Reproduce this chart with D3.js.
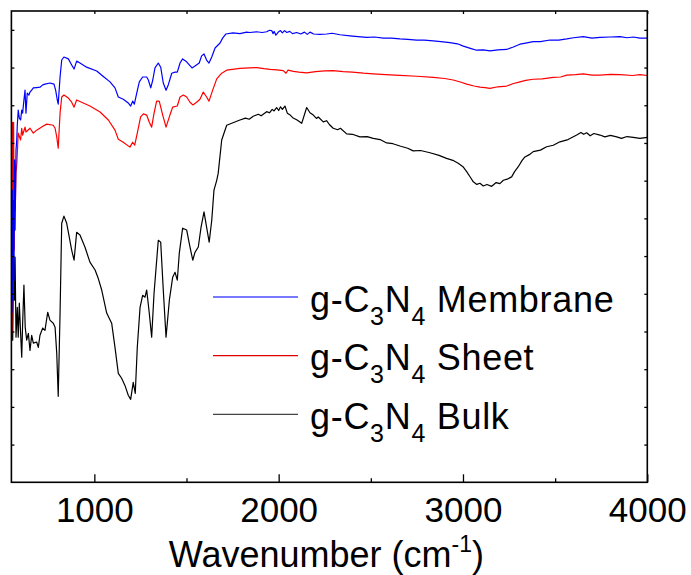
<!DOCTYPE html>
<html>
<head>
<meta charset="utf-8">
<script src="https://cdn.jsdelivr.net/npm/d3@7"></script>
<style>
  body { margin: 0; background: #fff; }
  text { font-family: Arial, "Liberation Sans", sans-serif; fill: #000; }
</style>
</head>
<body>
<div id="chart"></div>
<script>
// FTIR spectra, [wavenumber (cm-1), transmittance (a.u., offset)]
const membrane = [
  [553,44.9],[555,77.5],[557,48.3],[560,74.8],[564,53.6],[567,85.5],[570,66.9],[575,88.1],[579,90.8],[582,94.7],
  [587,98.7],[593,96.6],[600,96.1],[606,98.7],[611,97.9],[618,101.4],[624,104.0],[629,97.9],[636,103.2],[645,102.7],
  [651,103.5],[660,104.0],[669,104.6],[687,104.7],[705,104.8],[720,105.4],[732,105.6],[759,105.9],[781,105.6],[790,104.0],
  [799,101.4],[804,100.3],[814,107.5],[823,112.0],[835,112.8],[859,112.3],[877,110.7],[890,109.6],[904,111.7],[922,111.2],
  [958,110.1],[1013,109.1],[1047,107.7],[1085,106.2],[1112,104.6],[1130,102.2],[1157,101.6],[1184,100.6],[1197,99.8],[1208,101.1],
  [1217,100.3],[1230,103.2],[1244,106.2],[1262,107.5],[1284,107.5],[1293,106.7],[1306,104.6],[1317,106.7],[1329,109.9],[1347,111.2],
  [1360,110.1],[1374,105.9],[1389,104.0],[1401,105.4],[1420,108.5],[1438,108.8],[1450,108.8],[1465,111.2],[1479,112.3],[1497,111.7],
  [1515,110.7],[1530,109.9],[1546,110.4],[1569,111.2],[1582,113.1],[1595,113.6],[1609,112.0],[1622,111.2],[1637,112.8],[1655,115.2],
  [1682,116.5],[1696,117.8],[1714,118.9],[1752,119.2],[1790,119.0],[1826,119.4],[1844,119.3],[1880,119.5],[1910,119.3],[1935,119.5],
  [1950,119.9],[1962,119.8],[1970,119.0],[1975,119.6],[1985,118.6],[1998,119.4],[2010,119.8],[2020,119.2],[2032,119.8],[2044,119.3],
  [2060,119.6],[2075,119.0],[2098,119.3],[2120,118.9],[2140,119.4],[2155,118.8],[2170,119.4],[2190,118.9],[2224,118.8],[2260,118.9],
  [2290,119.1],[2333,118.7],[2387,118.4],[2430,118.2],[2478,118.0],[2520,118.1],[2568,117.8],[2610,117.8],[2658,117.6],[2700,117.5],
  [2749,117.3],[2790,117.3],[2839,117.1],[2880,116.9],[2929,116.6],[2970,116.3],[3002,115.7],[3040,115.1],[3074,114.6],[3110,114.7],
  [3146,114.4],[3190,114.7],[3237,114.8],[3270,115.4],[3309,116.2],[3340,116.5],[3381,116.9],[3420,116.9],[3472,117.3],[3520,117.3],
  [3563,117.6],[3600,117.9],[3653,118.2],[3700,117.8],[3743,118.0],[3800,118.1],[3852,118.2],[3890,117.9],[3924,118.1],[3960,117.8],
  [4000,117.8]
];

const sheet = [
  [553,39.5],[556,95.5],[559,48.3],[562,95.5],[565,61.6],[568,82.8],[571,72.2],[575,82.3],[579,84.1],[587,92.6],
  [600,90.8],[606,93.9],[611,92.1],[624,94.2],[629,92.9],[651,93.9],[669,92.6],[687,93.4],[723,94.5],[742,95.0],
  [777,94.7],[787,93.9],[796,91.6],[804,88.6],[814,97.9],[823,102.2],[835,102.7],[859,101.9],[877,100.8],[890,99.5],
  [904,101.4],[931,100.8],[976,99.8],[1031,98.2],[1076,96.1],[1112,93.4],[1130,91.0],[1157,90.2],[1193,88.9],[1208,90.2],
  [1219,89.4],[1233,92.6],[1251,96.9],[1266,97.7],[1284,97.4],[1298,95.5],[1311,94.2],[1324,97.9],[1338,101.1],[1352,101.1],
  [1371,97.4],[1389,94.2],[1410,97.4],[1425,99.5],[1450,99.8],[1465,102.2],[1483,102.7],[1501,102.2],[1519,100.8],[1534,100.1],
  [1555,100.8],[1573,101.6],[1591,103.5],[1609,102.2],[1622,101.1],[1642,104.0],[1664,107.0],[1691,108.5],[1718,109.3],[1790,109.8],
  [1840,109.9],[1881,110.0],[1920,109.7],[1953,109.5],[1990,109.4],[2025,109.2],[2040,108.5],[2050,109.3],[2080,109.0],[2110,108.8],
  [2152,108.6],[2200,108.9],[2250,109.1],[2296,109.2],[2350,108.9],[2400,108.8],[2460,108.5],[2513,108.3],[2580,108.1],[2658,107.9],
  [2750,107.7],[2839,107.4],[2900,107.1],[2947,106.7],[2990,106.1],[3020,105.6],[3060,105.1],[3092,104.8],[3120,104.7],[3146,104.5],
  [3190,104.9],[3237,105.1],[3270,105.7],[3309,106.2],[3340,106.6],[3381,106.9],[3430,107.0],[3490,107.4],[3530,107.5],[3563,108.0],
  [3610,108.1],[3653,108.3],[3700,108.0],[3743,108.0],[3800,108.2],[3852,108.1],[3920,107.9],[3960,108.1],[4000,107.9]
];

const bulk = [
  [553,61.6],[557,37.7],[562,59.7],[566,48.3],[570,59.7],[575,38.5],[582,46.4],[587,38.5],[593,47.5],[600,39.5],
  [606,33.2],[611,42.2],[618,52.3],[625,41.1],[633,37.7],[642,39.5],[651,35.0],[660,39.0],[669,36.9],[687,37.2],
  [696,35.8],[705,39.0],[720,40.9],[732,40.3],[747,45.1],[759,43.0],[777,42.2],[787,41.1],[796,34.2],[804,22.8],
  [814,44.9],[823,68.7],[835,70.6],[850,68.7],[864,65.0],[877,61.6],[890,58.9],[904,66.3],[922,65.6],[949,62.4],
  [976,58.4],[1004,56.3],[1021,54.1],[1040,51.0],[1067,44.9],[1094,42.2],[1112,35.8],[1130,28.9],[1148,27.6],[1166,25.7],
  [1184,23.1],[1197,22.0],[1211,26.5],[1222,23.6],[1233,35.8],[1248,46.4],[1262,49.6],[1275,49.1],[1284,51.0],[1298,44.9],
  [1311,38.5],[1324,50.2],[1334,56.3],[1347,64.2],[1360,63.7],[1374,51.0],[1389,38.5],[1407,48.3],[1425,54.4],[1438,55.7],
  [1450,53.6],[1461,60.8],[1479,67.4],[1501,66.9],[1519,62.4],[1534,58.9],[1546,61.0],[1564,62.4],[1579,67.7],[1595,71.7],
  [1609,67.7],[1623,63.7],[1637,69.5],[1649,77.5],[1664,80.1],[1672,82.0],[1691,90.8],[1718,94.7],[1790,96.1],[1820,96.6],
  [1840,96.3],[1862,97.1],[1890,97.6],[1905,97.2],[1935,98.3],[1950,98.0],[1965,98.9],[1975,98.5],[1989,99.4],[2000,98.6],
  [2010,99.6],[2020,98.9],[2034,99.8],[2047,97.9],[2060,97.5],[2079,96.6],[2100,96.1],[2125,95.2],[2152,99.4],[2170,98.0],
  [2188,97.4],[2205,96.5],[2215,96.9],[2242,95.6],[2260,95.9],[2275,94.9],[2296,93.9],[2320,93.5],[2335,93.9],[2369,92.4],
  [2400,92.3],[2441,91.6],[2480,91.7],[2513,91.2],[2550,90.9],[2586,90.0],[2620,89.8],[2658,89.2],[2700,88.6],[2730,87.9],
  [2770,88.0],[2821,87.4],[2870,86.7],[2911,85.9],[2945,85.4],[2974,84.6],[3000,83.7],[3020,82.4],[3040,80.9],[3056,79.7],
  [3075,79.0],[3092,79.3],[3110,78.6],[3130,79.0],[3156,78.5],[3180,79.5],[3200,79.2],[3219,80.1],[3240,80.4],[3264,81.0],
  [3280,82.4],[3300,83.7],[3320,85.3],[3336,86.3],[3360,86.9],[3381,87.7],[3420,88.1],[3454,89.0],[3490,89.4],[3526,90.3],
  [3570,90.9],[3617,92.1],[3640,92.8],[3655,92.3],[3671,92.7],[3690,91.9],[3710,92.5],[3743,92.1],[3770,91.6],[3800,92.0],
  [3834,91.6],[3860,91.2],[3890,91.7],[3924,91.5],[3960,91.2],[4000,91.5]
];

const seriesNames = ["Membrane", "Sheet", "Bulk"];
const seriesColors = ["#0000ff", "#ff0000", "#000000"];
const legendColors = ["#4d4dff", "#e00000", "#444444"];
const xTicksMajor = [1000, 2000, 3000, 4000];
const xTicksMinor = [1500, 2500, 3500];
const yTicks = d3.range(10, 125, 10);

const width = 691, height = 575;
const plot = {left: 11.4, right: 647.3, top: 11, bottom: 482.3};

const svg = d3.select("#chart")
    .append("svg")
    .attr("width", width)
    .attr("height", height);

const x = d3.scaleLinear()
    .domain([550, 4000])
    .range([plot.left, plot.right]);

const y = d3.scaleLinear()
    .domain([0, 125])
    .range([plot.bottom, plot.top]);

svg.append("clipPath")
    .attr("id", "clip")
    .append("rect")
    .attr("x", plot.left)
    .attr("y", plot.top)
    .attr("width", plot.right - plot.left)
    .attr("height", plot.bottom - plot.top);

// spectra
const line = d3.line()
    .x(d => x(d[0]))
    .y(d => y(d[1]));

const g = svg.append("g").attr("clip-path", "url(#clip)");
[bulk, sheet, membrane].forEach((data, i) => {
    g.append("path")
        .datum(data)
        .attr("fill", "none")
        .attr("stroke", seriesColors[2 - i])
        .attr("stroke-width", 1.2)
        .attr("stroke-linejoin", "round")
        .attr("d", line);
});

// axes: ticks point inward, no y labels
const axisStyle = sel => {
    sel.select(".domain").remove();
    sel.selectAll(".tick line").attr("stroke", "#000").attr("stroke-width", 1.3);
};

svg.append("g")
    .attr("transform", `translate(0,${plot.bottom})`)
    .call(d3.axisBottom(x).tickValues(xTicksMajor).tickSize(-8).tickFormat(d3.format("d")).tickPadding(15))
    .call(axisStyle)
    .call(s => s.selectAll(".tick text")
        .style("font-size", "35px")
        .style("font-family", "Arial, 'Liberation Sans', sans-serif"));

svg.append("g")
    .attr("transform", `translate(0,${plot.bottom})`)
    .call(d3.axisBottom(x).tickValues(xTicksMinor).tickSize(-4).tickFormat(""))
    .call(axisStyle);

svg.append("g")
    .attr("transform", `translate(0,${plot.top})`)
    .call(d3.axisTop(x).tickValues(xTicksMajor.concat(xTicksMinor)).tickSize(-3).tickFormat(""))
    .call(axisStyle);

svg.append("g")
    .attr("transform", `translate(${plot.left},0)`)
    .call(d3.axisLeft(y).tickValues(yTicks).tickSize(-3).tickFormat(""))
    .call(axisStyle);

svg.append("g")
    .attr("transform", `translate(${plot.right},0)`)
    .call(d3.axisRight(y).tickValues(yTicks).tickSize(-3).tickFormat(""))
    .call(axisStyle);

// frame
svg.append("rect")
    .attr("x", plot.left)
    .attr("y", plot.top)
    .attr("width", plot.right - plot.left)
    .attr("height", plot.bottom - plot.top)
    .attr("fill", "none")
    .attr("stroke", "#000")
    .attr("stroke-width", 1.6);

// x axis title
const title = svg.append("text")
    .attr("x", (plot.left + plot.right) / 2 - 3)
    .attr("y", 567)
    .attr("text-anchor", "middle")
    .style("font-size", "36px");
title.append("tspan").text("Wavenumber (cm");
title.append("tspan").attr("dy", -15).style("font-size", "23px").text("-1");
title.append("tspan").attr("dy", 15).text(")");

// legend
const legend = svg.append("g")
    .attr("transform", "translate(213,297)");

seriesNames.forEach((name, i) => {
    const row = legend.append("g")
        .attr("transform", `translate(0,${i * 58.7})`);

    row.append("line")
        .attr("x1", 0)
        .attr("x2", 85)
        .attr("y1", 0)
        .attr("y2", 0)
        .attr("stroke", legendColors[i])
        .attr("stroke-width", 1.3);

    const label = row.append("text")
        .attr("x", 97)
        .attr("y", 14.7)
        .style("font-size", "36px")
        .style("letter-spacing", "0.7px");
    label.append("tspan").text("g-C");
    label.append("tspan").attr("dy", 13).style("font-size", "25px").text("3");
    label.append("tspan").attr("dy", -13).text("N");
    label.append("tspan").attr("dy", 13).style("font-size", "25px").text("4");
    label.append("tspan").attr("dy", -13).text(" " + name);
});
</script>
</body>
</html>
